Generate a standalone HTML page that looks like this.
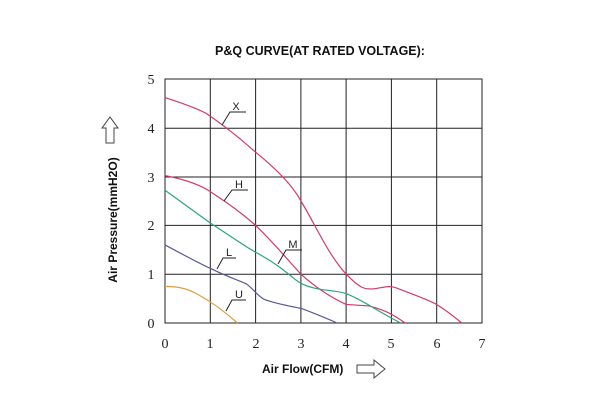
<!DOCTYPE html>
<html><head><meta charset="utf-8"><style>
html,body{margin:0;padding:0;background:#fff;}
svg{display:block;}
</style></head><body>
<svg width="600" height="400" viewBox="0 0 600 400" xmlns="http://www.w3.org/2000/svg">
<rect width="600" height="400" fill="#fff"/>
<text x="320" y="55" text-anchor="middle" font-family="Liberation Sans, sans-serif" font-weight="bold" font-size="12.5" fill="#111">P&amp;Q CURVE(AT RATED VOLTAGE):</text>
<g stroke="#222" stroke-width="1" fill="none">
<rect x="165" y="79" width="317" height="244"/>
<line x1="210.3" y1="79" x2="210.3" y2="323"/>
<line x1="255.6" y1="79" x2="255.6" y2="323"/>
<line x1="300.9" y1="79" x2="300.9" y2="323"/>
<line x1="346.1" y1="79" x2="346.1" y2="323"/>
<line x1="391.4" y1="79" x2="391.4" y2="323"/>
<line x1="436.7" y1="79" x2="436.7" y2="323"/>
<line x1="165" y1="128.2" x2="482" y2="128.2"/>
<line x1="165" y1="177" x2="482" y2="177"/>
<line x1="165" y1="225.4" x2="482" y2="225.4"/>
<line x1="165" y1="274.2" x2="482" y2="274.2"/>
</g>
<g font-family="Liberation Serif, serif" font-size="14" fill="#222" text-anchor="middle">
<text x="165" y="348">0</text><text x="210" y="348">1</text><text x="256" y="348">2</text><text x="301" y="348">3</text><text x="346" y="348">4</text><text x="391" y="348">5</text><text x="437" y="348">6</text><text x="482" y="348">7</text>
<text x="151" y="328">0</text><text x="151" y="279">1</text><text x="151" y="230">2</text><text x="151" y="182">3</text><text x="151" y="133">4</text><text x="151" y="84">5</text>
</g>
<g transform="translate(165,323) scale(45.3,-48.8)" fill="none" stroke-width="1.2">
<path vector-effect="non-scaling-stroke" stroke="#d23a6a" d="M0,4.62 C0.4,4.5 0.7,4.4 0.9,4.3 C1.3,4.05 1.7,3.75 2,3.5 C2.4,3.2 2.8,2.85 3,2.5 C3.3,2.05 3.6,1.4 4,1 C4.3,0.72 4.4,0.68 4.6,0.7 C4.8,0.72 4.95,0.78 5.1,0.72 C5.5,0.58 5.8,0.48 6,0.38 C6.3,0.2 6.45,0.08 6.55,0"/>
<path vector-effect="non-scaling-stroke" stroke="#d23a6a" d="M0,3.02 C0.4,2.95 0.7,2.85 0.9,2.75 C1.4,2.45 1.7,2.25 2,2 C2.4,1.65 2.7,1.3 3,1 C3.3,0.75 3.6,0.55 4,0.38 L4.5,0.35 C4.8,0.28 5,0.2 5.3,0"/>
<path vector-effect="non-scaling-stroke" stroke="#2aa57a" d="M0,2.72 C0.4,2.45 0.7,2.25 1,2.05 C1.5,1.75 1.8,1.55 2,1.45 C2.4,1.25 2.6,1.1 2.8,0.95 C3,0.78 3.2,0.72 3.5,0.68 C3.7,0.66 3.9,0.64 4,0.6 C4.3,0.5 4.6,0.3 5,0.1 L5.2,0"/>
<path vector-effect="non-scaling-stroke" stroke="#5a5a98" d="M0,1.6 C0.5,1.35 0.8,1.2 1,1.12 C1.3,0.98 1.6,0.88 1.8,0.8 C2,0.65 2.05,0.55 2.2,0.48 C2.5,0.38 2.8,0.34 3,0.3 C3.3,0.2 3.6,0.08 3.8,0"/>
<path vector-effect="non-scaling-stroke" stroke="#e0a040" d="M0,0.75 C0.3,0.75 0.5,0.7 0.7,0.6 C1,0.45 1.3,0.25 1.6,0"/>
</g>
<g stroke="#222" stroke-width="1" fill="none">
<polyline points="222,125 230,112 246,112"/>
<polyline points="224,201 232,190 248,190"/>
<polyline points="278,264 286,250 302,250"/>
<polyline points="217,269 223,258 236,258"/>
<polyline points="226,311 232,300 246,300"/>
</g>
<g font-family="Liberation Sans, sans-serif" font-size="11" fill="#222" text-anchor="middle">
<text x="236" y="110">X</text><text x="239" y="188">H</text><text x="293" y="248">M</text><text x="229" y="256">L</text><text x="239" y="298">U</text>
</g>
<path d="M106,143 L106,128 L102,128 L110,117 L118,128 L114,128 L114,143 Z" fill="none" stroke="#444" stroke-width="1"/>
<text transform="translate(117,220) rotate(-90)" text-anchor="middle" font-family="Liberation Sans, sans-serif" font-weight="bold" font-size="12" fill="#111">Air Pressure(mmH2O)</text>
<text x="262" y="373" font-family="Liberation Sans, sans-serif" font-weight="bold" font-size="12" fill="#111">Air Flow(CFM)</text>
<path d="M357,365 L374,365 L374,360 L385,369 L374,378 L374,373 L357,373 Z" fill="none" stroke="#444" stroke-width="1"/>
</svg>
</body></html>
